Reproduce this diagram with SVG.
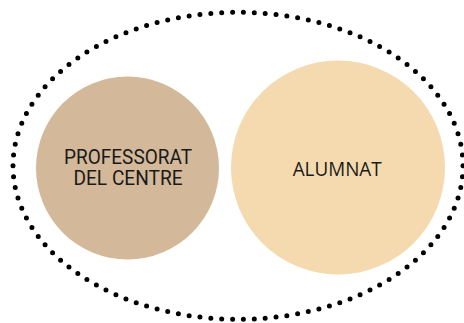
<svg xmlns="http://www.w3.org/2000/svg" width="464" height="323" viewBox="0 0 464 323">
<style>
.lbl{font-family:Roboto,"Liberation Sans",Arial,sans-serif;font-size:19.5px;font-weight:400;fill:#1a1a1a;text-anchor:middle}
.lbl2{font-family:"Open Sans","Liberation Sans",sans-serif;font-size:20px;fill:#1a1a1a;text-anchor:middle}
</style>
<rect width="464" height="323" fill="#ffffff"/>
<g id="connectors">
<ellipse cx="238" cy="165.8" rx="225" ry="153.5" fill="none" stroke="#000" stroke-width="5" stroke-linecap="round" pathLength="110" stroke-dasharray="0 1"/>
</g>
<g id="professorat">
<circle cx="127.5" cy="168" r="91.5" fill="#D3B899"/>
<text class="lbl" x="128" y="164" textLength="128" lengthAdjust="spacingAndGlyphs">PROFESSORAT</text>
<text class="lbl" x="128" y="184.5" textLength="109" lengthAdjust="spacingAndGlyphs">DEL CENTRE</text>
</g>
<g id="alumnat">
<circle cx="338" cy="167.5" r="107" fill="#F4DAAE"/>
<text class="lbl2" x="337.2" y="176.3" textLength="89" lengthAdjust="spacingAndGlyphs">ALUMNAT</text>
</g>
</svg>
